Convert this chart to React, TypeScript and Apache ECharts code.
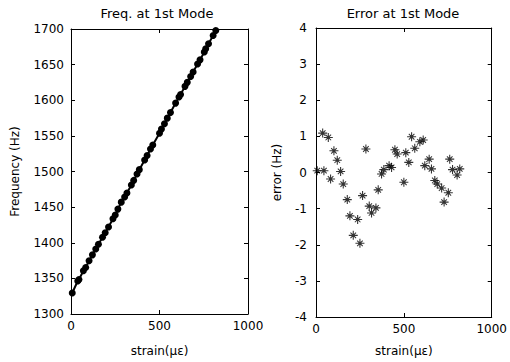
import React, { useEffect, useRef } from "react";
import * as echarts from "echarts";

const strain = [7, 38, 45, 70, 83, 102, 121, 140, 155, 178, 193, 212, 237, 250, 265, 284, 303, 316, 341, 354, 373, 386, 416, 430, 449, 462, 500, 511, 528, 544, 562, 591, 610, 619, 644, 657, 676, 690, 715, 729, 753, 761, 777, 803, 818];
const frequency = [1329.5, 1346.3, 1348.4, 1360.6, 1365.3, 1374.7, 1383.0, 1391.3, 1397.8, 1407.7, 1414.0, 1422.1, 1433.8, 1439.0, 1447.2, 1457.0, 1464.1, 1469.7, 1481.1, 1487.5, 1496.6, 1502.6, 1516.2, 1522.5, 1531.5, 1537.3, 1553.7, 1559.5, 1567.0, 1574.9, 1582.7, 1596.0, 1604.6, 1608.0, 1619.5, 1625.1, 1633.4, 1639.6, 1650.8, 1656.7, 1667.8, 1672.4, 1679.3, 1690.9, 1697.8];
const error = [0.05, 1.09, 0.05, 0.97, -0.18, 0.6, 0.34, 0.03, -0.32, -0.75, -1.2, -1.74, -1.3, -1.96, -0.64, 0.65, -0.93, -1.12, -0.98, -0.48, -0.04, 0.08, 0.19, 0.14, 0.63, 0.51, -0.27, 0.55, 0.28, 0.99, 0.67, 0.85, 0.9, 0.19, 0.37, 0.1, -0.22, -0.32, -0.43, -0.82, -0.56, 0.37, 0.08, -0.07, 0.1];

const leftTitle = "Freq. at 1st Mode";
const rightTitle = "Error at 1st Mode";
const xName = "strain(µε)";
const leftYName = "Frequency (Hz)";
const rightYName = "error (Hz)";

const STAR =
  "path://M4.4,0 h1.2 v10 h-1.2 z M0,4.4 h10 v1.2 h-10 z M3.2,3.2 h3.6 v3.6 h-3.6 z M1.5,2.3 L2.3,1.5 L8.5,7.7 L7.7,8.5 z M7.7,1.5 L8.5,2.3 L2.3,8.5 L1.5,7.7 z";

export default function App() {
  const ref = useRef<HTMLDivElement>(null);
  useEffect(() => {
    const chart = echarts.init(ref.current!, null, { renderer: "svg" });
    const font = { fontFamily: "DejaVu Sans", fontSize: 12, color: "#000" };
    const plain = (v: number) => String(v);
    const axisLine = { show: true, onZero: false, lineStyle: { color: "#000", width: 1 } };
    const tick = { show: true, inside: true, length: 4, lineStyle: { color: "#000", width: 1 } };
    const noSplit = { show: false };
    const xMain = (grid: number, gap: number) => ({
      gridIndex: grid, type: "value", min: 0, max: 1000, interval: 500, position: "bottom",
      axisLine, axisTick: tick, splitLine: noSplit,
      axisLabel: { ...font, margin: 6, formatter: plain, showMaxLabel: true, showMinLabel: true },
      name: xName, nameLocation: "middle", nameGap: gap, nameTextStyle: { ...font },
    });
    const xTop = (grid: number) => ({
      gridIndex: grid, type: "value", min: 0, max: 1000, interval: 500, position: "top",
      axisLine, axisTick: tick, splitLine: noSplit, axisLabel: { show: false },
    });
    chart.setOption({
      animation: false,
      backgroundColor: "#fff",
      grid: [
        { left: 71, right: 262, top: 29, bottom: 42 },
        { left: 316, right: 18, top: 28, bottom: 43 },
      ],
      graphic: [
        { type: "text", x: 157, y: 13, style: { text: leftTitle, textAlign: "center", textVerticalAlign: "middle", fill: "#000", font: "13px 'DejaVu Sans'" } },
        { type: "text", x: 403, y: 13, style: { text: rightTitle, textAlign: "center", textVerticalAlign: "middle", fill: "#000", font: "13px 'DejaVu Sans'" } },
      ],
      xAxis: [xMain(0, 31), xTop(0), xMain(1, 28), xTop(1)],
      yAxis: [
        {
          gridIndex: 0, type: "value", min: 1300, max: 1700, interval: 50, position: "left",
          axisLine, axisTick: tick, splitLine: noSplit, axisLabel: { ...font, margin: 7, formatter: plain },
          name: leftYName, nameLocation: "middle", nameGap: 50, nameTextStyle: { ...font },
        },
        {
          gridIndex: 0, type: "value", min: 1300, max: 1700, interval: 50, position: "right",
          axisLine, axisTick: tick, splitLine: noSplit, axisLabel: { show: false },
        },
        {
          gridIndex: 1, type: "value", min: -4, max: 4, interval: 1, position: "left",
          axisLine, axisTick: tick, splitLine: noSplit, axisLabel: { ...font, margin: 9, formatter: plain },
          name: rightYName, nameLocation: "middle", nameGap: 33, nameTextStyle: { ...font },
        },
        {
          gridIndex: 1, type: "value", min: -4, max: 4, interval: 1, position: "right",
          axisLine, axisTick: tick, splitLine: noSplit, axisLabel: { show: false },
        },
      ],
      series: [
        {
          type: "line", xAxisIndex: 0, yAxisIndex: 0,
          data: strain.map((s, i) => [s, frequency[i]]),
          symbol: "circle", symbolSize: 7, showAllSymbol: true,
          itemStyle: { color: "#000" }, lineStyle: { color: "#000", width: 2 },
        },
        {
          type: "scatter", xAxisIndex: 2, yAxisIndex: 2,
          data: strain.map((s, i) => [s, error[i]]),
          symbol: STAR, symbolSize: 9,
          itemStyle: { color: "#000" },
        },
      ],
    });
    return () => chart.dispose();
  }, []);
  return <div ref={ref} style={{ position: "fixed", left: 0, top: 0, width: 510, height: 362 }} />;
}
